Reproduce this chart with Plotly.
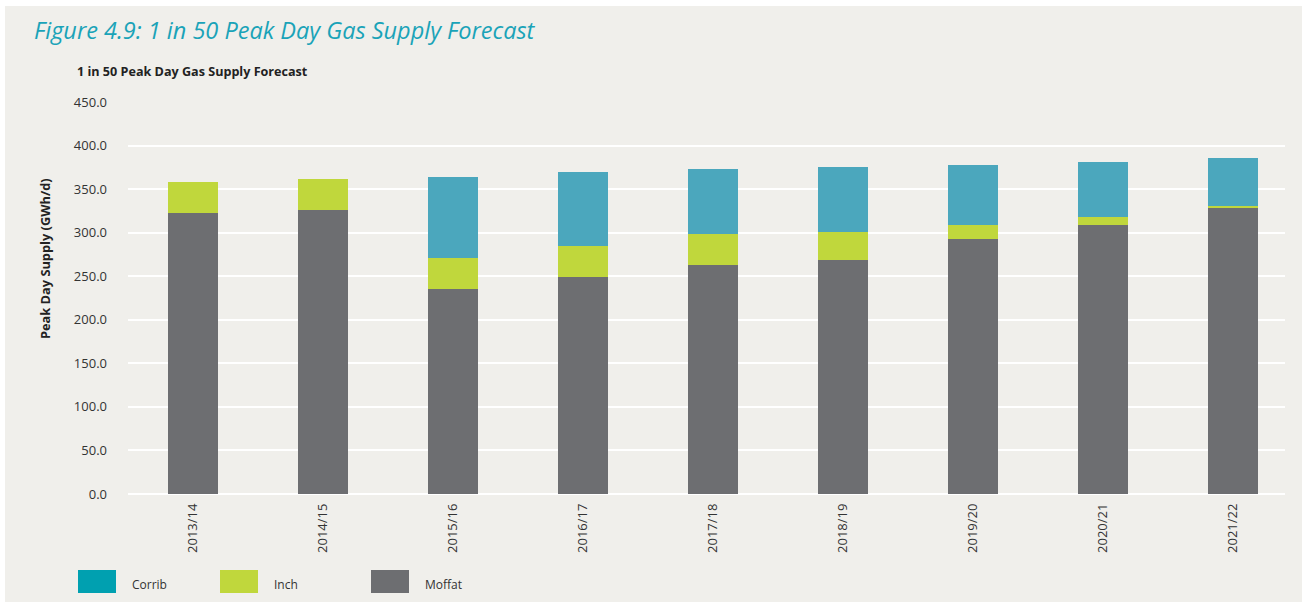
import plotly.graph_objects as go

categories = ["2013/14", "2014/15", "2015/16", "2016/17", "2017/18",
              "2018/19", "2019/20", "2020/21", "2021/22"]
moffat = [322.9, 326.0, 235.3, 249.1, 262.9, 268.6, 292.7, 308.8, 328.3]
inch = [35.3, 35.6, 35.6, 35.6, 35.6, 32.2, 16.1, 9.2, 2.3]
corrib = [0.0, 0.0, 93.0, 84.9, 74.6, 74.6, 68.9, 63.1, 55.1]
y_ticks = [0, 50, 100, 150, 200, 250, 300, 350, 400, 450]

W, H = 1302, 603
L, R, T, B = 128, 17, 102, 109
PW, PH = W - L - R, H - T - B


def px(x):
    return (x - L) / PW


def py(y):
    return (H - B - y) / PH


BG = "#F0EFEB"
C_MOFFAT = "#6D6E71"
C_INCH = "#C0D73C"
C_CORRIB = "#4BA7BD"
C_CORRIB_LEG = "#00A0B0"
FONT = "Open Sans"

fig = go.Figure()
for name, vals, col in [("Moffat", moffat, C_MOFFAT),
                        ("Inch", inch, C_INCH),
                        ("Corrib", corrib, C_CORRIB)]:
    fig.add_trace(go.Bar(x=categories, y=vals, name=name, marker_color=col,
                         marker_line_width=0, width=0.39, showlegend=False))

shapes = [dict(type="rect", xref="paper", yref="paper", layer="below",
               x0=px(5), x1=px(1302), y0=py(602), y1=py(6),
               fillcolor=BG, line_width=0)]
annotations = [
    dict(text="Figure 4.9: 1 in 50 Peak Day Gas Supply Forecast", xref="paper", yref="paper",
         x=px(32), y=py(30), xanchor="left", yanchor="middle", showarrow=False,
         font=dict(family=FONT, size=23.5, color="#1AA3B8", style="italic")),
    dict(text="<b>1 in 50 Peak Day Gas Supply Forecast</b>", xref="paper", yref="paper",
         x=px(75), y=py(71), xanchor="left", yanchor="middle", showarrow=False,
         font=dict(family=FONT, size=12.6, color="#222222")),
    dict(text="<b>Peak Day Supply (GWh/d)</b>", xref="paper", yref="paper",
         x=px(45), y=py(259), xanchor="center", yanchor="middle", showarrow=False,
         textangle=-90, font=dict(family=FONT, size=12.8, color="#222222")),
]
legend_items = [("Corrib", C_CORRIB_LEG, 78), ("Inch", C_INCH, 220), ("Moffat", C_MOFFAT, 371)]
for name, col, x0 in legend_items:
    shapes.append(dict(type="rect", xref="paper", yref="paper",
                       x0=px(x0), x1=px(x0 + 38), y0=py(593), y1=py(570),
                       fillcolor=col, line_width=0))
    annotations.append(dict(text=name, xref="paper", yref="paper",
                            x=px(x0 + 52), y=py(584), xanchor="left", yanchor="middle",
                            showarrow=False, font=dict(family=FONT, size=12, color="#333333")))

fig.update_layout(
    width=W, height=H, barmode="stack",
    margin=dict(l=L, r=R, t=T, b=B, autoexpand=False),
    paper_bgcolor="white", plot_bgcolor="rgba(0,0,0,0)",
    font=dict(family=FONT, size=12, color="#333333"),
    shapes=shapes, annotations=annotations,
    xaxis=dict(type="category", range=[-0.5, 8.4], tickangle=-90, showgrid=False,
               ticks="", ticklabelstandoff=6, tickfont=dict(size=13, color="#333333")),
    yaxis=dict(range=[0, 450], tickvals=y_ticks, tickformat=".1f", showgrid=True,
               gridcolor="white", gridwidth=2, zeroline=True, zerolinecolor="white",
               zerolinewidth=2, ticks="", ticklabelstandoff=20,
               tickfont=dict(size=13, color="#333333")),
)

fig.write_html("out.html", config={"displayModeBar": False},
               post_script="document.body.style.margin='0px';")
